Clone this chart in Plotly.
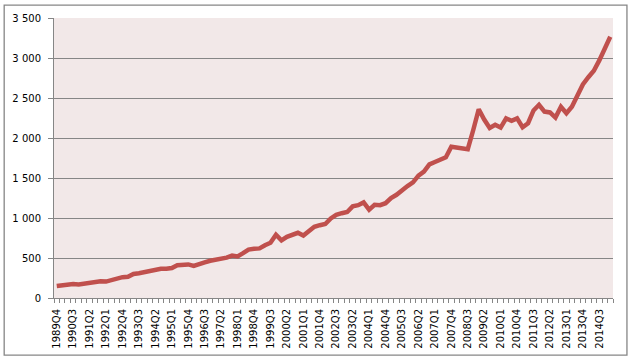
import plotly.graph_objects as go

# Quarterly categories 1989Q4 .. 2015Q1
quarters = []
y, q = 1989, 4
while (y, q) <= (2015, 1):
    quarters.append(f"{y}Q{q}")
    q += 1
    if q > 4:
        q = 1
        y += 1

values = [
    150, 160, 170, 175, 170, 180, 185, 195, 210, 205,
    225, 240, 260, 265, 300, 310, 325, 345, 360, 365,
    365, 375, 410, 415, 420, 400, 430, 445, 465, 475,
    485, 505, 530, 520, 560, 605, 615, 620, 660, 690,
    790, 720, 765, 795, 815, 780, 840, 890, 910, 925,
    995, 1040, 1060, 1075, 1145, 1160, 1195, 1105, 1165, 1160,
    1185, 1250, 1290, 1350, 1400, 1445, 1530, 1580, 1670, 1700,
    1730, 1760, 1890, 1880, 1865, 1860, 2100, 2360, 2230, 2125,
    2165, 2130, 2245, 2215, 2245, 2135, 2185, 2345, 2415, 2330,
    2320, 2255, 2390, 2310, 2390, 2540, 2670, 2760, 2840, 2970,
    3120, 3265,
]

idx = list(range(len(quarters)))
label_idx = idx[::3]
label_text = [quarters[i] for i in label_idx]
boundaries = [i - 0.5 for i in range(len(quarters) + 1)]

GRID = "#868686"
FONT = dict(family="DejaVu Sans", size=10, color="#000000")

fig = go.Figure()
fig.add_trace(go.Scatter(
    x=idx, y=values, mode="lines",
    line=dict(color="#C0504D", width=4.5),
    hoverinfo="skip",
))

W, H = 629, 361
ml, mr, mt, mb = 52, 16, 15, 62
pw, ph = W - ml - mr, H - mt - mb

fig.update_layout(
    width=W, height=H,
    margin=dict(l=ml, r=mr, t=mt, b=mb, pad=0),
    paper_bgcolor="#FFFFFF",
    plot_bgcolor="#F2E8E8",
    showlegend=False,
    separators=", ",
    font=FONT,
    xaxis=dict(
        range=[-0.5, len(quarters) - 0.5],
        tickmode="array", tickvals=label_idx, ticktext=label_text,
        tickangle=-90, ticks="", showgrid=False, zeroline=False,
        showline=True, linecolor=GRID, linewidth=1,
        tickfont=FONT, ticklabelstandoff=6,
        minor=dict(tickmode="array", tickvals=boundaries, ticks="outside",
                   ticklen=4, tickcolor=GRID, tickwidth=1, showgrid=False),
    ),
    yaxis=dict(
        range=[0, 3500], dtick=500, tick0=0, tickformat=",d",
        showgrid=True, gridcolor=GRID, gridwidth=1, zeroline=False,
        showline=True, linecolor=GRID, linewidth=1,
        ticks="outside", ticklen=5, tickcolor=GRID,
        tickfont=FONT, ticklabelstandoff=5,
    ),
)

# outer chart border
fig.add_shape(
    type="rect", xref="paper", yref="paper",
    x0=(2 - ml) / pw, x1=(627 - ml) / pw,
    y0=-(357 - (H - mb)) / ph, y1=1 + (mt - 2) / ph,
    line=dict(color=GRID, width=1.3), fillcolor="rgba(0,0,0,0)",
    layer="below",
)

fig.write_html("out.html")
